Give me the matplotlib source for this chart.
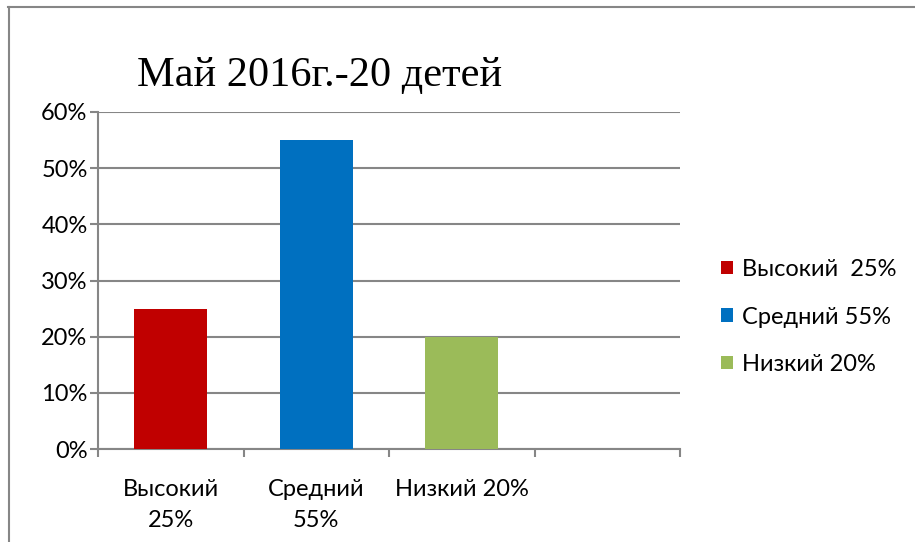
#!/usr/bin/env python3
"""Bar chart: Май 2016г.-20 детей."""

import numpy as np
import matplotlib.pyplot as plt
from matplotlib.lines import Line2D
from matplotlib.patches import Patch

# =============================================================================
# Data
# =============================================================================
categories = ['Высокий\n25%', 'Средний\n55%', 'Низкий 20%', '']
legend_labels = ['Высокий  25%', 'Средний 55%', 'Низкий 20%']
values = [0.25, 0.55, 0.20]
colors = ['#C00000', '#0070C0', '#9BBB59']
yticks = [0.0, 0.1, 0.2, 0.3, 0.4, 0.5, 0.6]
title = 'Май 2016г.-20 детей'

SANS = ['Lato', 'DejaVu Sans']
SERIF = ['Liberation Serif', 'DejaVu Serif']
GRID = '#868686'
FS = 17

plt.rcParams['font.family'] = SANS

fig = plt.figure(figsize=(9.15, 5.42), dpi=100)
W, H = 915, 542
ax = fig.add_axes([98 / W, 1 - 449 / H, (680 - 98) / W, (449 - 112) / H])

x = np.arange(len(values))
ax.bar(x, values, width=0.5, color=colors, zorder=3)

ax.set_xlim(-0.5, len(categories) - 0.5)
ax.set_ylim(0, 0.6)
ax.set_yticks(yticks)
ax.set_yticklabels([f'{int(round(v * 100))}%' for v in yticks], fontsize=FS)
ax.set_xticks(np.arange(len(categories) + 1) - 0.5)
ax.set_xticklabels([''] * (len(categories) + 1))
ax.set_xticks(np.arange(len(categories)), minor=True)
ax.set_xticklabels(categories, minor=True, fontsize=FS, linespacing=1.6)
ax.tick_params(axis='x', which='minor', length=0, pad=21.5)
ax.tick_params(axis='x', which='major', length=6, width=1.5, color=GRID)
ax.tick_params(axis='y', length=6, width=1.5, color=GRID, pad=1.5)

ax.grid(axis='y', color=GRID, linewidth=1.5, zorder=0)
for side in ['top', 'right']:
    ax.spines[side].set_visible(False)
for side in ['left', 'bottom']:
    ax.spines[side].set_color(GRID)
    ax.spines[side].set_linewidth(1.5)

fig.text(137 / W, 1 - 76 / H, title, fontsize=30.5, family=SERIF,
         va='center', ha='left')

handles = [Patch(facecolor=c) for c in colors]
fig.legend(handles, legend_labels, loc='center left',
           bbox_to_anchor=(700 / W, 1 - 317 / H), frameon=False,
           fontsize=FS, handlelength=0.5, handleheight=0.5,
           handletextpad=0.4, labelspacing=1.12)

# outer frame (top and left edges only)
fig.add_artist(Line2D([8 / W, 1.0], [1 - 7 / H, 1 - 7 / H], color=GRID,
                      linewidth=1.5, transform=fig.transFigure))
fig.add_artist(Line2D([9 / W, 9 / W], [0.0, 1 - 7 / H], color=GRID,
                      linewidth=1.5, transform=fig.transFigure))

fig.savefig('out.png', dpi=100)
